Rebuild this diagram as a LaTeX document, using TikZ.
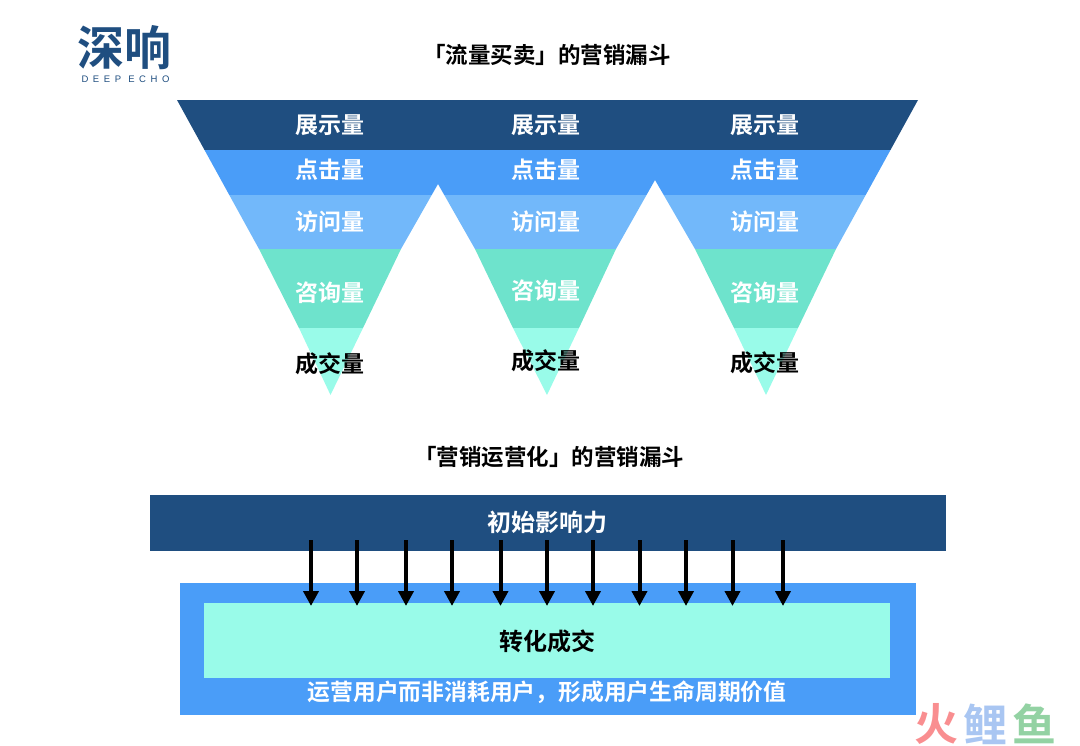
\documentclass[tikz,border=0pt]{standalone}
\usepackage{fontspec}
\setmainfont{Noto Sans CJK SC}[BoldFont={* Bold}]
\newfontfamily\cjkb{Noto Sans CJK SC Bold}
\newfontfamily\logolat{Liberation Sans}[LetterSpace=48]
\usetikzlibrary{arrows.meta}
\definecolor{cdark}{HTML}{1F4E80}
\definecolor{cblue}{HTML}{4A9DF8}
\definecolor{clight}{HTML}{72B8FA}
\definecolor{cteal}{HTML}{6EE3CC}
\definecolor{cpale}{HTML}{99FBE9}
\definecolor{wred}{HTML}{F98E90}
\definecolor{wblue}{HTML}{A9C6F2}
\definecolor{wgreen}{HTML}{93D2A3}
\tikzset{
  lbl/.style={font=\cjkb\fontsize{23}{23}\selectfont,text=white,inner sep=0pt},
  lbk/.style={font=\cjkb\fontsize{23}{23}\selectfont,text=black,inner sep=0pt},
  ttl/.style={font=\cjkb\fontsize{22.5}{23}\selectfont,text=black,inner sep=0pt},
  wm/.style={inner sep=0pt,font=\cjkb\fontsize{44}{44}\selectfont},
  push/.style={-{Triangle[length=15pt,width=15pt]},line width=4pt,black},
}
\begin{document}
\begin{tikzpicture}[x=1pt,y=-1pt]
\useasboundingbox (0,0) rectangle (1080,746);
% funnels
\begin{scope}
\clip (177,100)--(918,100)--(836,249)--(798,328)--(766,395)
  --(734,328)--(695,249)--(655,180)--(616,249)--(579,328)--(547,395)
  --(513,328)--(475,249)--(438,184)--(401,249)--(363,328)--(330.5,395)
  --(299,328)--(259,249)--cycle;
\fill[cdark] (170,100) rectangle (925,150);
\fill[cblue] (170,150) rectangle (925,195);
\fill[clight] (170,195) rectangle (925,249);
\fill[cteal] (170,249) rectangle (925,328);
\fill[cpale] (170,328) rectangle (925,396);
\end{scope}
\foreach \n/\x/\yz/\yc in {a/330/293/364,b/546/291/361,c/765/293/363}{
  \node[lbl] (show\n) at (\x,125) {展示量};
  \node[lbl] (click\n) at (\x,170) {点击量};
  \node[lbl] (visit\n) at (\x,222) {访问量};
  \node[lbl] (ask\n) at (\x,\yz) {咨询量};
  \node[lbk] (deal\n) at (\x,\yc) {成交量};
}
\node[ttl] (t1) at (547,55) {「流量买卖」的营销漏斗};
\node[ttl] (t2) at (549,457) {「营销运营化」的营销漏斗};
% lower blocks
\fill[cdark] (150,495) rectangle (946,551);
\node[lbl,font=\cjkb\fontsize{24}{24}\selectfont] (inf) at (547,522) {初始影响力};
\fill[cblue] (180,583) rectangle (916,715);
\fill[cpale] (204,603) rectangle (890,678);
\node[lbk,font=\cjkb\fontsize{24}{24}\selectfont] (conv) at (547,641) {转化成交};
\node[lbl,font=\cjkb\fontsize{22.8}{23}\selectfont] (life) at (547,692) {运营用户而非消耗用户，形成用户生命周期价值};
\foreach \i/\x in {1/311,2/357,3/406,4/452,5/500.5,6/547,7/593,8/639.5,9/686,10/732.5,11/783}{
  \coordinate (s\i) at (\x,540);
  \coordinate (e\i) at (\x,606);
  \draw[push] (s\i) -- (e\i);
}
% logo
\node[inner sep=0pt,text=cdark,font=\cjkb\fontsize{47}{47}\selectfont] (logo) at (124,48) {深响};
\node[inner sep=0pt,text=cdark,font=\logolat\fontsize{9.5}{10}\selectfont] (logot) at (125.5,79) {DEEP ECHO};
% watermark
\node[wm,text=wred] (wm1) at (936,724) {火};
\node[wm,text=wblue] (wm2) at (985,724) {鲤};
\node[wm,text=wgreen] (wm3) at (1034,724) {鱼};
\end{tikzpicture}
\end{document}
